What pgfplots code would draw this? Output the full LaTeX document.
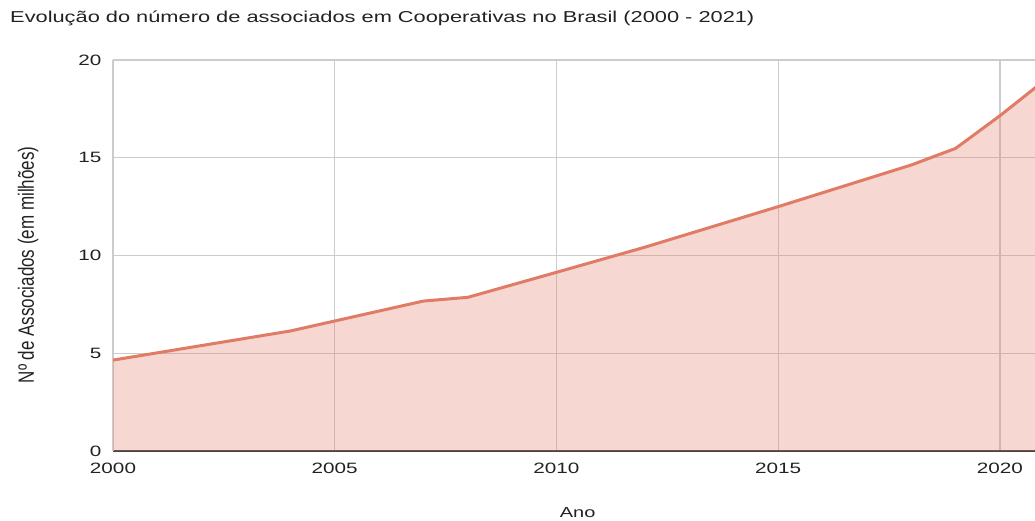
\documentclass[border=0pt]{standalone}
\usepackage{fontspec}
\setmainfont{Liberation Sans}[FakeStretch=1.38]
\usepackage{graphicx}
\usepackage{pgfplots}
\pgfplotsset{compat=1.18}

\definecolor{linec}{RGB}{224,123,102}
\definecolor{gridc}{RGB}{204,204,204}
\definecolor{txt}{RGB}{34,34,34}

% Associados (milhões) por ano
\pgfplotstableread{
ano  valor
2000 4.65
2004 6.14
2005 6.65
2007 7.67
2008 7.86
2010 9.14
2012 10.43
2015 12.50
2018 14.63
2019 15.48
2020 17.15
2021 18.95
}\dados

\begin{document}
\begin{tikzpicture}
\path[use as bounding box] (0,0) rectangle (1035pt,520pt);
\begin{axis}[
    at={(113pt,69pt)}, anchor=south west,
    scale only axis,
    width=922pt, height=391pt,
    xmin=2000, xmax=2020.79,
    ymin=0, ymax=20,
    xtick={2000,2005,...,2020},
    ytick={0,5,...,20},
    xticklabel style={/pgf/number format/1000 sep={}, yshift=-8.5pt},
    yticklabel style={xshift=-8pt},
    /pgf/number format/assume math mode=true,
    ticklabel style={font=\fontsize{15}{18}\selectfont, text=txt},
    tick style={draw=none},
    grid=major,
    major grid style={draw=gridc, line width=1.3pt},
    separate axis lines,
    axis x line*=bottom,
    axis y line*=left,
    x axis line style={draw=black!75, line width=1.4pt},
    y axis line style={draw=gridc, line width=1.3pt},
    title={Evolução do número de associados em Cooperativas no Brasil (2000 - 2021)},
    title style={at={(axis description cs:-0.1117,1.081)}, anchor=base west,
        inner sep=0pt, font=\fontsize{15.8}{18}\selectfont, text=txt},
    xlabel={Ano},
    xlabel style={at={(axis description cs:0.504,-0.171)}, anchor=base,
        inner sep=0pt, font=\fontsize{14.5}{17}\selectfont, text=txt},
    ylabel={\scalebox{1}[1.3]{Nº de Associados (em milhões)}},
    ylabel style={at={(axis description cs:-0.0857,0.476)}, anchor=base,
        inner sep=0pt, font=\fontsize{17}{20}\selectfont\addfontfeature{FakeStretch=1}, text=txt},
]
\addplot[draw=none, fill=linec, fill opacity=0.3] table[x=ano, y=valor] {\dados} \closedcycle;
\addplot[linec, line width=3pt, line join=round] table[x=ano, y=valor] {\dados};
\end{axis}
\end{tikzpicture}
\end{document}
